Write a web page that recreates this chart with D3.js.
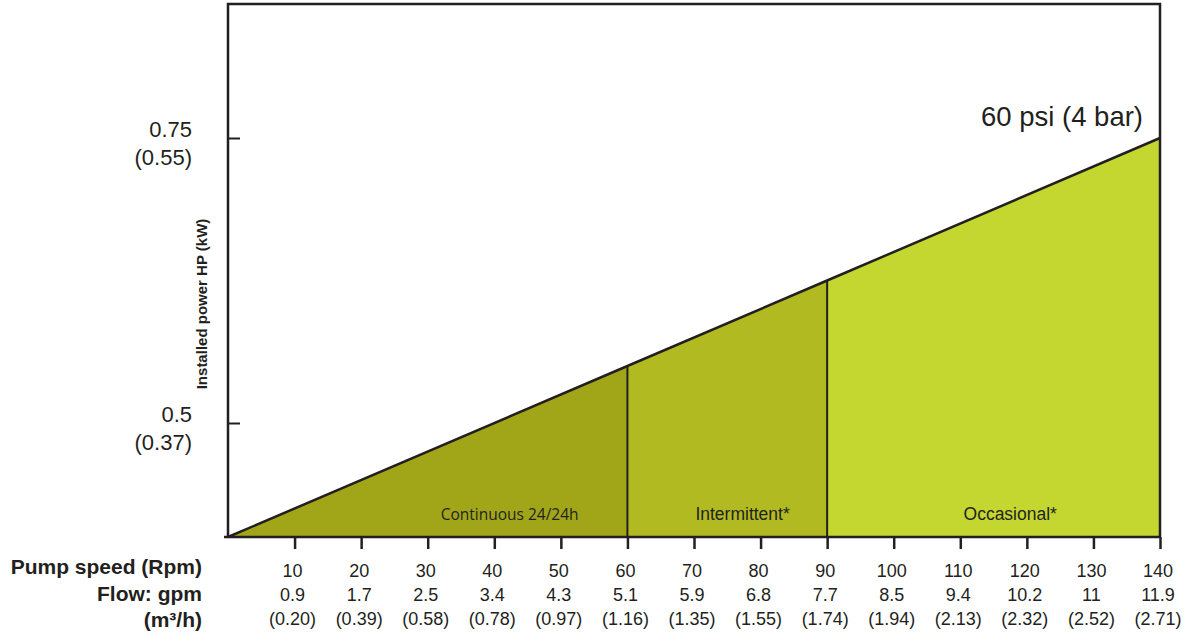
<!DOCTYPE html>
<html>
<head>
<meta charset="utf-8">
<script src="https://cdn.jsdelivr.net/npm/d3@7"></script>
<style>
  body { margin: 0; background: #fff; }
  svg { display: block; font-family: "Liberation Sans", Arial, sans-serif; }
</style>
</head>
<body>
<div id="plot"></div>
<script>
// data
var pumpSpeed = [10, 20, 30, 40, 50, 60, 70, 80, 90, 100, 110, 120, 130, 140];
var flowGpm = ["0.9", "1.7", "2.5", "3.4", "4.3", "5.1", "5.9", "6.8", "7.7", "8.5", "9.4", "10.2", "11", "11.9"];
var flowM3h = ["(0.20)", "(0.39)", "(0.58)", "(0.78)", "(0.97)", "(1.16)", "(1.35)", "(1.55)", "(1.74)", "(1.94)", "(2.13)", "(2.32)", "(2.52)", "(2.71)"];

var hpTicks = [0.5, 0.75];
var kwLabels = ["(0.37)", "(0.55)"];

// installed power line (60 psi)
var lineSpeed = [0, 60, 90, 140];
var lineHp = [0.40, 0.55, 0.625, 0.75];

var zoneStart = [0, 60, 90];
var zoneEnd = [60, 90, 140];
var zoneNames = ["Continuous 24/24h", "Intermittent*", "Occasional*"];
var zoneColors = ["#a1a619", "#b1bb21", "#c3d730"];

// layout
var svgWidth = 1191, svgHeight = 634;
var margin = { top: 4, right: 31, bottom: 97, left: 228 };
var width = svgWidth - margin.left - margin.right;
var height = svgHeight - margin.top - margin.bottom;
var ink = "#231f20";

var svg = d3.select("#plot").append("svg")
    .attr("width", svgWidth)
    .attr("height", svgHeight);

var chartGroup = svg.append("g")
    .attr("transform", `translate(${margin.left}, ${margin.top})`);

var xScale = d3.scaleLinear().domain([0, 140]).range([0, width]);
var yScale = d3.scaleLinear().domain([0.40, 0.75]).range([height, 134]);

var pts = lineSpeed.map((s, i) => ({ s: s, hp: lineHp[i] }));

// zones under the line
zoneStart.forEach(function (z0, i) {
    var z1 = zoneEnd[i];
    var seg = pts.filter(p => p.s >= z0 && p.s <= z1);
    var area = d3.area()
        .x(d => xScale(d.s))
        .y0(height)
        .y1(d => yScale(d.hp));
    chartGroup.append("path")
        .datum(seg)
        .attr("d", area)
        .attr("fill", zoneColors[i]);
});

// zone dividers
[60, 90].forEach(function (s) {
    var hp = lineHp[lineSpeed.indexOf(s)];
    chartGroup.append("line")
        .attr("x1", xScale(s)).attr("x2", xScale(s))
        .attr("y1", yScale(hp)).attr("y2", height)
        .attr("stroke", ink).attr("stroke-width", 2);
});

// power line
chartGroup.append("path")
    .datum(pts)
    .attr("d", d3.line().x(d => xScale(d.s)).y(d => yScale(d.hp)))
    .attr("fill", "none")
    .attr("stroke", ink)
    .attr("stroke-width", 2.5);

// frame (left, top, right)
chartGroup.append("path")
    .attr("d", `M0,${height} V0 H${width} V${height}`)
    .attr("fill", "none")
    .attr("stroke", ink)
    .attr("stroke-width", 2.5);

// x axis
var bottomAxis = d3.axisBottom(xScale)
    .tickValues(pumpSpeed)
    .tickSize(12)
    .tickFormat("");
var xAxisG = chartGroup.append("g")
    .attr("transform", `translate(0, ${height})`)
    .call(bottomAxis);
xAxisG.select(".domain").attr("d", `M-4,0H${width}`).attr("stroke", ink).attr("stroke-width", 2.5);
xAxisG.selectAll(".tick line").attr("stroke", ink).attr("stroke-width", 2.5);

// x tick labels, three rows
var rows = [pumpSpeed.map(String), flowGpm, flowM3h];
rows.forEach(function (row, r) {
    chartGroup.append("g").selectAll("text")
        .data(row)
        .enter()
        .append("text")
        .attr("x", (d, i) => xScale(pumpSpeed[i]) - 2)
        .attr("y", height + 40 + r * 24)
        .attr("text-anchor", "middle")
        .attr("font-size", "18px")
        .attr("fill", ink)
        .text(d => d);
});

// row titles
var rowTitles = ["Pump speed (Rpm)", "Flow: gpm", "(m³/h)"];
svg.append("g").selectAll("text")
    .data(rowTitles)
    .enter()
    .append("text")
    .attr("x", 202)
    .attr("y", (d, i) => 574 + i * 26.5)
    .attr("text-anchor", "end")
    .attr("font-size", "21px")
    .attr("font-weight", "bold")
    .attr("fill", ink)
    .text(d => d);

// y axis ticks (pointing inward)
var leftAxis = d3.axisRight(yScale)
    .tickValues(hpTicks)
    .tickSize(12)
    .tickFormat("");
var yAxisG = chartGroup.append("g").call(leftAxis);
yAxisG.select(".domain").remove();
yAxisG.selectAll(".tick line").attr("stroke", ink).attr("stroke-width", 2);

// y tick labels, two lines
hpTicks.forEach(function (v, i) {
    var t = chartGroup.append("text")
        .attr("text-anchor", "end")
        .attr("font-size", "22px")
        .attr("fill", ink);
    t.append("tspan").attr("x", -36).attr("y", yScale(v) - 1.5).text(String(v));
    t.append("tspan").attr("x", -36).attr("y", yScale(v) + 26.5).text(kwLabels[i]);
});

// y axis title
chartGroup.append("text")
    .attr("transform", "rotate(-90)")
    .attr("x", -300)
    .attr("y", -21)
    .attr("text-anchor", "middle")
    .attr("font-size", "15px")
    .attr("font-weight", "bold")
    .attr("fill", ink)
    .text("Installed power HP (kW)");

// line label
chartGroup.append("text")
    .attr("x", xScale(140) - 17)
    .attr("y", yScale(0.75) - 12)
    .attr("text-anchor", "end")
    .attr("font-size", "27.5px")
    .attr("fill", ink)
    .text("60 psi (4 bar)");

// zone labels
var zoneLabelAt = [42.3, 77.3, 117.5];
zoneNames.forEach(function (name, i) {
    chartGroup.append("text")
        .attr("x", xScale(zoneLabelAt[i]))
        .attr("y", height - 17)
        .attr("text-anchor", "middle")
        .attr("font-family", i === 0 ? "'Open Sans', sans-serif" : null)
        .attr("font-size", i === 0 ? "15.5px" : "17.5px")
        .attr("fill", ink)
        .text(name);
});
</script>
</body>
</html>
